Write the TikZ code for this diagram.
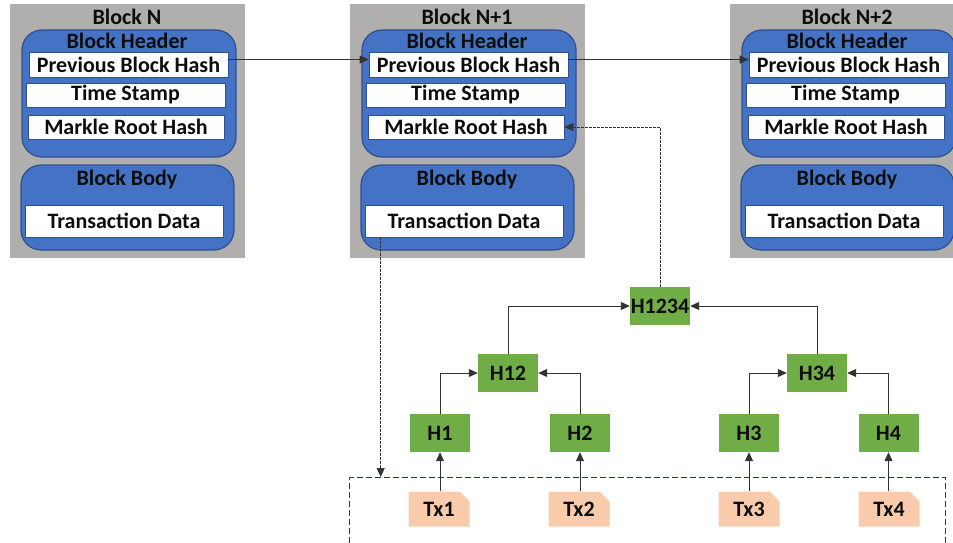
\documentclass[tikz,border=0pt]{standalone}
\usepackage{fontspec}
\setmainfont{Carlito}
\usetikzlibrary{arrows.meta}
\definecolor{grayblk}{HTML}{B1AEAE}
\definecolor{blu}{HTML}{4472C4}
\definecolor{bluedge}{HTML}{2F4F8F}
\definecolor{grn}{HTML}{70AD47}
\definecolor{txc}{HTML}{F8CBAD}
\definecolor{navy}{HTML}{243B63}
\tikzset{
  every node/.style={font=\bfseries\fontsize{22}{24}\selectfont, inner sep=0pt, text=black!95},
  graybox/.style={fill=grayblk, minimum width=235pt, minimum height=254pt},
  bluebox/.style={fill=blu, draw=bluedge, line width=1.2pt, rounded corners=20pt},
  whitebox/.style={fill=white, draw=bluedge, line width=0.6pt},
  hashbox/.style={fill=grn, minimum width=60pt, minimum height=38pt},
  txbox/.style={minimum width=61pt, minimum height=35pt,
    path picture={\fill[txc] (path picture bounding box.south west) -- (path picture bounding box.north west)
      -- ([xshift=-10pt]path picture bounding box.north east) -- ([yshift=-10pt]path picture bounding box.north east)
      -- (path picture bounding box.south east) -- cycle;}},
  conn/.style={draw=black!80, line width=1pt, -{Triangle[length=9pt,width=8pt]}},
  dotconn/.style={draw=black!80, line width=0.8pt, dash pattern=on 2.5pt off 1.5pt, -{Triangle[length=9pt,width=8pt]}},
  dashbox/.style={draw=navy, line width=1.1pt, dash pattern=on 6pt off 3pt}
}
\begin{document}
\begin{tikzpicture}[x=1pt,y=-1pt]
\useasboundingbox (0,0) rectangle (953,543);
\foreach \o/\n/\t in {0/a/Block N, 340/b/Block N+1, 720/c/Block N+2}{
  \node[graybox] (gray\n) at (127.5+\o,131) {};
  \node (title\n) at (127+\o,17) {\t};
  \node[bluebox, minimum width=214pt, minimum height=127pt] (head\n) at (129+\o,93.5) {};
  \node (headt\n) at (127+\o,41) {Block Header};
  \node[whitebox, minimum width=199pt, minimum height=25pt] (prev\n) at (128.5+\o,64.5) {Previous Block Hash};
  \node[whitebox, minimum width=199pt, minimum height=24pt] (time\n) at (125.5+\o,95) {Time Stamp};
  \node[whitebox, minimum width=196pt, minimum height=24pt] (mr\n) at (126+\o,127) {Markle Root Hash};
  \node[bluebox, minimum width=213pt, minimum height=85pt] (body\n) at (127.5+\o,207.5) {};
  \node (bodyt\n) at (127+\o,180) {Block Body};
  \node[whitebox, minimum width=198pt, minimum height=32pt] (td\n) at (124+\o,221) {Transaction Data};
}
\draw[conn] ([yshift=5pt]preva.east) -- ([yshift=5pt]prevb.west);
\draw[conn] ([yshift=5pt]prevb.east) -- ([yshift=5pt]prevc.west);

\node[dashbox, minimum width=596pt, minimum height=90pt, anchor=north west] (txarea) at (349,477) {};

\node[hashbox] (h1234) at (660,306) {H1234};
\node[hashbox] (h12) at (508,373) {H12};
\node[hashbox] (h34) at (817,373) {H34};
\node[hashbox] (h1) at (440,433) {H1};
\node[hashbox] (h2) at (580,433) {H2};
\node[hashbox] (h3) at (749,433) {H3};
\node[hashbox] (h4) at (888.5,433) {H4};

\node[txbox] (tx1) at (439,509) {Tx1};
\node[txbox] (tx2) at (579,509) {Tx2};
\node[txbox] (tx3) at (749,509) {Tx3};
\node[txbox] (tx4) at (889,509) {Tx4};

\foreach \i in {1,2,3,4}{
  \draw[conn] (tx\i.north -| h\i.north) -- (h\i.south);
}
\draw[conn] (h1.north) |- (h12.west);
\draw[conn] (h2.north) |- (h12.east);
\draw[conn] (h3.north) |- (h34.west);
\draw[conn] (h4.north) |- (h34.east);
\draw[conn] (h12.north) |- (h1234.west);
\draw[conn] (h34.north) |- (h1234.east);

\draw[dotconn] (h1234.north) |- (mrb.east);
\draw[dotconn] ([xshift=16pt]tdb.south west) -- ([xshift=16pt]tdb.south west |- txarea.north);
\end{tikzpicture}
\end{document}
